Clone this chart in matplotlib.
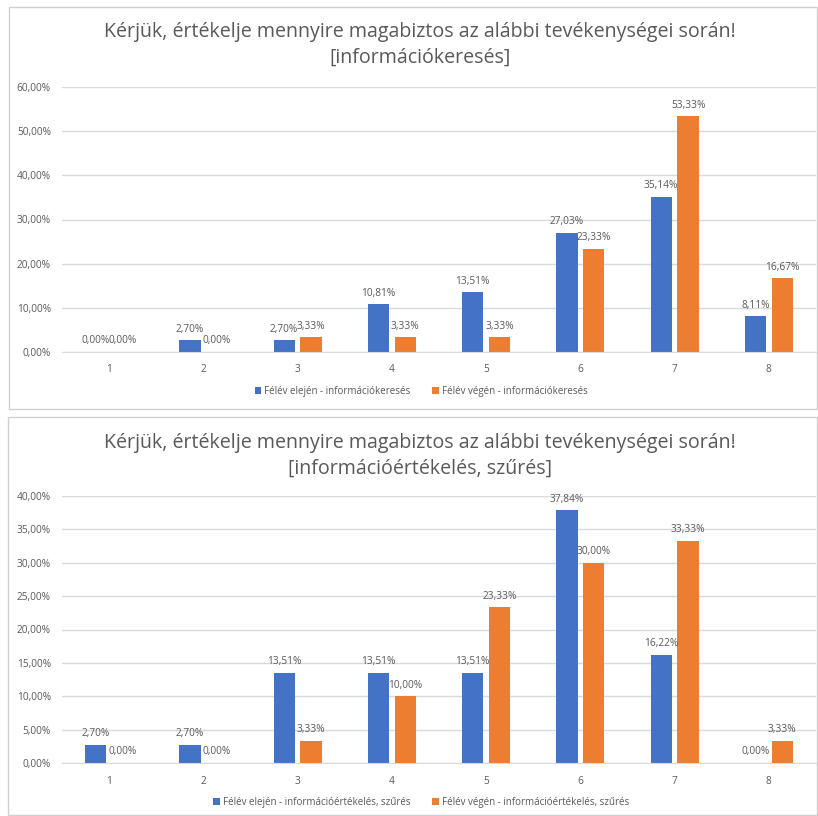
import matplotlib.pyplot as plt
import matplotlib.patches as patches
import numpy as np

categories = ["1", "2", "3", "4", "5", "6", "7", "8"]

kereses_eleje = [0.00, 2.70, 2.70, 10.81, 13.51, 27.03, 35.14, 8.11]
kereses_vege = [0.00, 0.00, 3.33, 3.33, 3.33, 23.33, 53.33, 16.67]

ertekeles_eleje = [2.70, 2.70, 13.51, 13.51, 13.51, 37.84, 16.22, 0.00]
ertekeles_vege = [0.00, 0.00, 3.33, 10.00, 23.33, 30.00, 33.33, 3.33]

title_line1 = "Kérjük, értékelje mennyire magabiztos az alábbi tevékenységei során!"
titles = ["[információkeresés]", "[információértékelés, szűrés]"]
legend_eleje = ["Félév elején - információkeresés", "Félév elején - információértékelés, szűrés"]
legend_vege = ["Félév végén - információkeresés", "Félév végén - információértékelés, szűrés"]
y_ticks = [[0, 10, 20, 30, 40, 50, 60], [0, 5, 10, 15, 20, 25, 30, 35, 40]]

BLUE = "#4472C4"
ORANGE = "#ED7D31"
TEXT = "#595959"
GRID = "#D9D9D9"

plt.rcParams["font.family"] = ["Open Sans", "DejaVu Sans"]

W, H = 818, 816
fig = plt.figure(figsize=(W / 100, H / 100), dpi=100)


def fx(px):
    return px / W


def fy(py):
    return 1 - py / H


def pct(v):
    return f"{v:.2f}".replace(".", ",") + "%"


# chart frames (pixel boxes: left, top, right, bottom)
frames = [(9, 7, 817, 409), (8, 417, 817, 815)]
for l, t, r, b in frames:
    fig.patches.append(patches.Rectangle((fx(l), fy(b)), fx(r - l), (b - t) / H,
                                         transform=fig.transFigure, fill=False,
                                         edgecolor="#D0D0D0", linewidth=1.0))

# axes placement: (zero-line y px, top-line y px)
axes_px = [(352, 87), (763, 496)]
title_y = [(32, 58), (443, 469)]
legend_y = [391, 802]

series = [(kereses_eleje, kereses_vege), (ertekeles_eleje, ertekeles_vege)]

x = np.arange(len(categories))
bw = 0.225
off = 0.143

for i, ((eleje, vege), (y0, y1)) in enumerate(zip(series, axes_px)):
    ax = fig.add_axes([fx(62), fy(y0), fx(816 - 62), (y0 - y1) / H])
    ymax = y_ticks[i][-1]
    b1 = ax.bar(x - off, eleje, bw, color=BLUE, label=legend_eleje[i], zorder=3)
    b2 = ax.bar(x + off, vege, bw, color=ORANGE, label=legend_vege[i], zorder=3)
    for bars, vals in ((b1, eleje), (b2, vege)):
        for rect, v in zip(bars, vals):
            ax.annotate(pct(v), (rect.get_x() + rect.get_width() / 2, v),
                        xytext=(0, 4), textcoords="offset points",
                        ha="center", va="bottom", fontsize=7.3, color=TEXT,
                        annotation_clip=False)
    ax.set_xlim(-0.5, len(categories) - 0.5)
    ax.set_ylim(0, ymax)
    ax.set_yticks(y_ticks[i])
    ax.set_yticklabels([pct(t) for t in y_ticks[i]])
    ax.set_xticks(x)
    ax.set_xticklabels(categories)
    ax.tick_params(axis="both", length=0, labelsize=7.3, labelcolor=TEXT)
    ax.tick_params(axis="y", pad=8)
    ax.tick_params(axis="x", pad=9)
    ax.grid(axis="y", color=GRID, linewidth=1.0, zorder=0)
    for s in ("top", "right", "left"):
        ax.spines[s].set_visible(False)
    ax.spines["bottom"].set_color(GRID)
    ax.spines["bottom"].set_zorder(4)
    ax.set_facecolor("none")

    fig.text(fx(420), fy(title_y[i][0]), title_line1, ha="center", va="center",
             fontsize=14.1, color=TEXT)
    fig.text(fx(420), fy(title_y[i][1]), titles[i], ha="center", va="center",
             fontsize=14.1, color=TEXT)

    fig.legend(handles=[b1, b2], loc="center", bbox_to_anchor=(fx(421), fy(legend_y[i])),
               ncol=2, frameon=False, fontsize=7.0, labelcolor=TEXT,
               handlelength=0.7, handleheight=0.7, handletextpad=0.3, columnspacing=2.2)

fig.savefig("out.png", dpi=100)
